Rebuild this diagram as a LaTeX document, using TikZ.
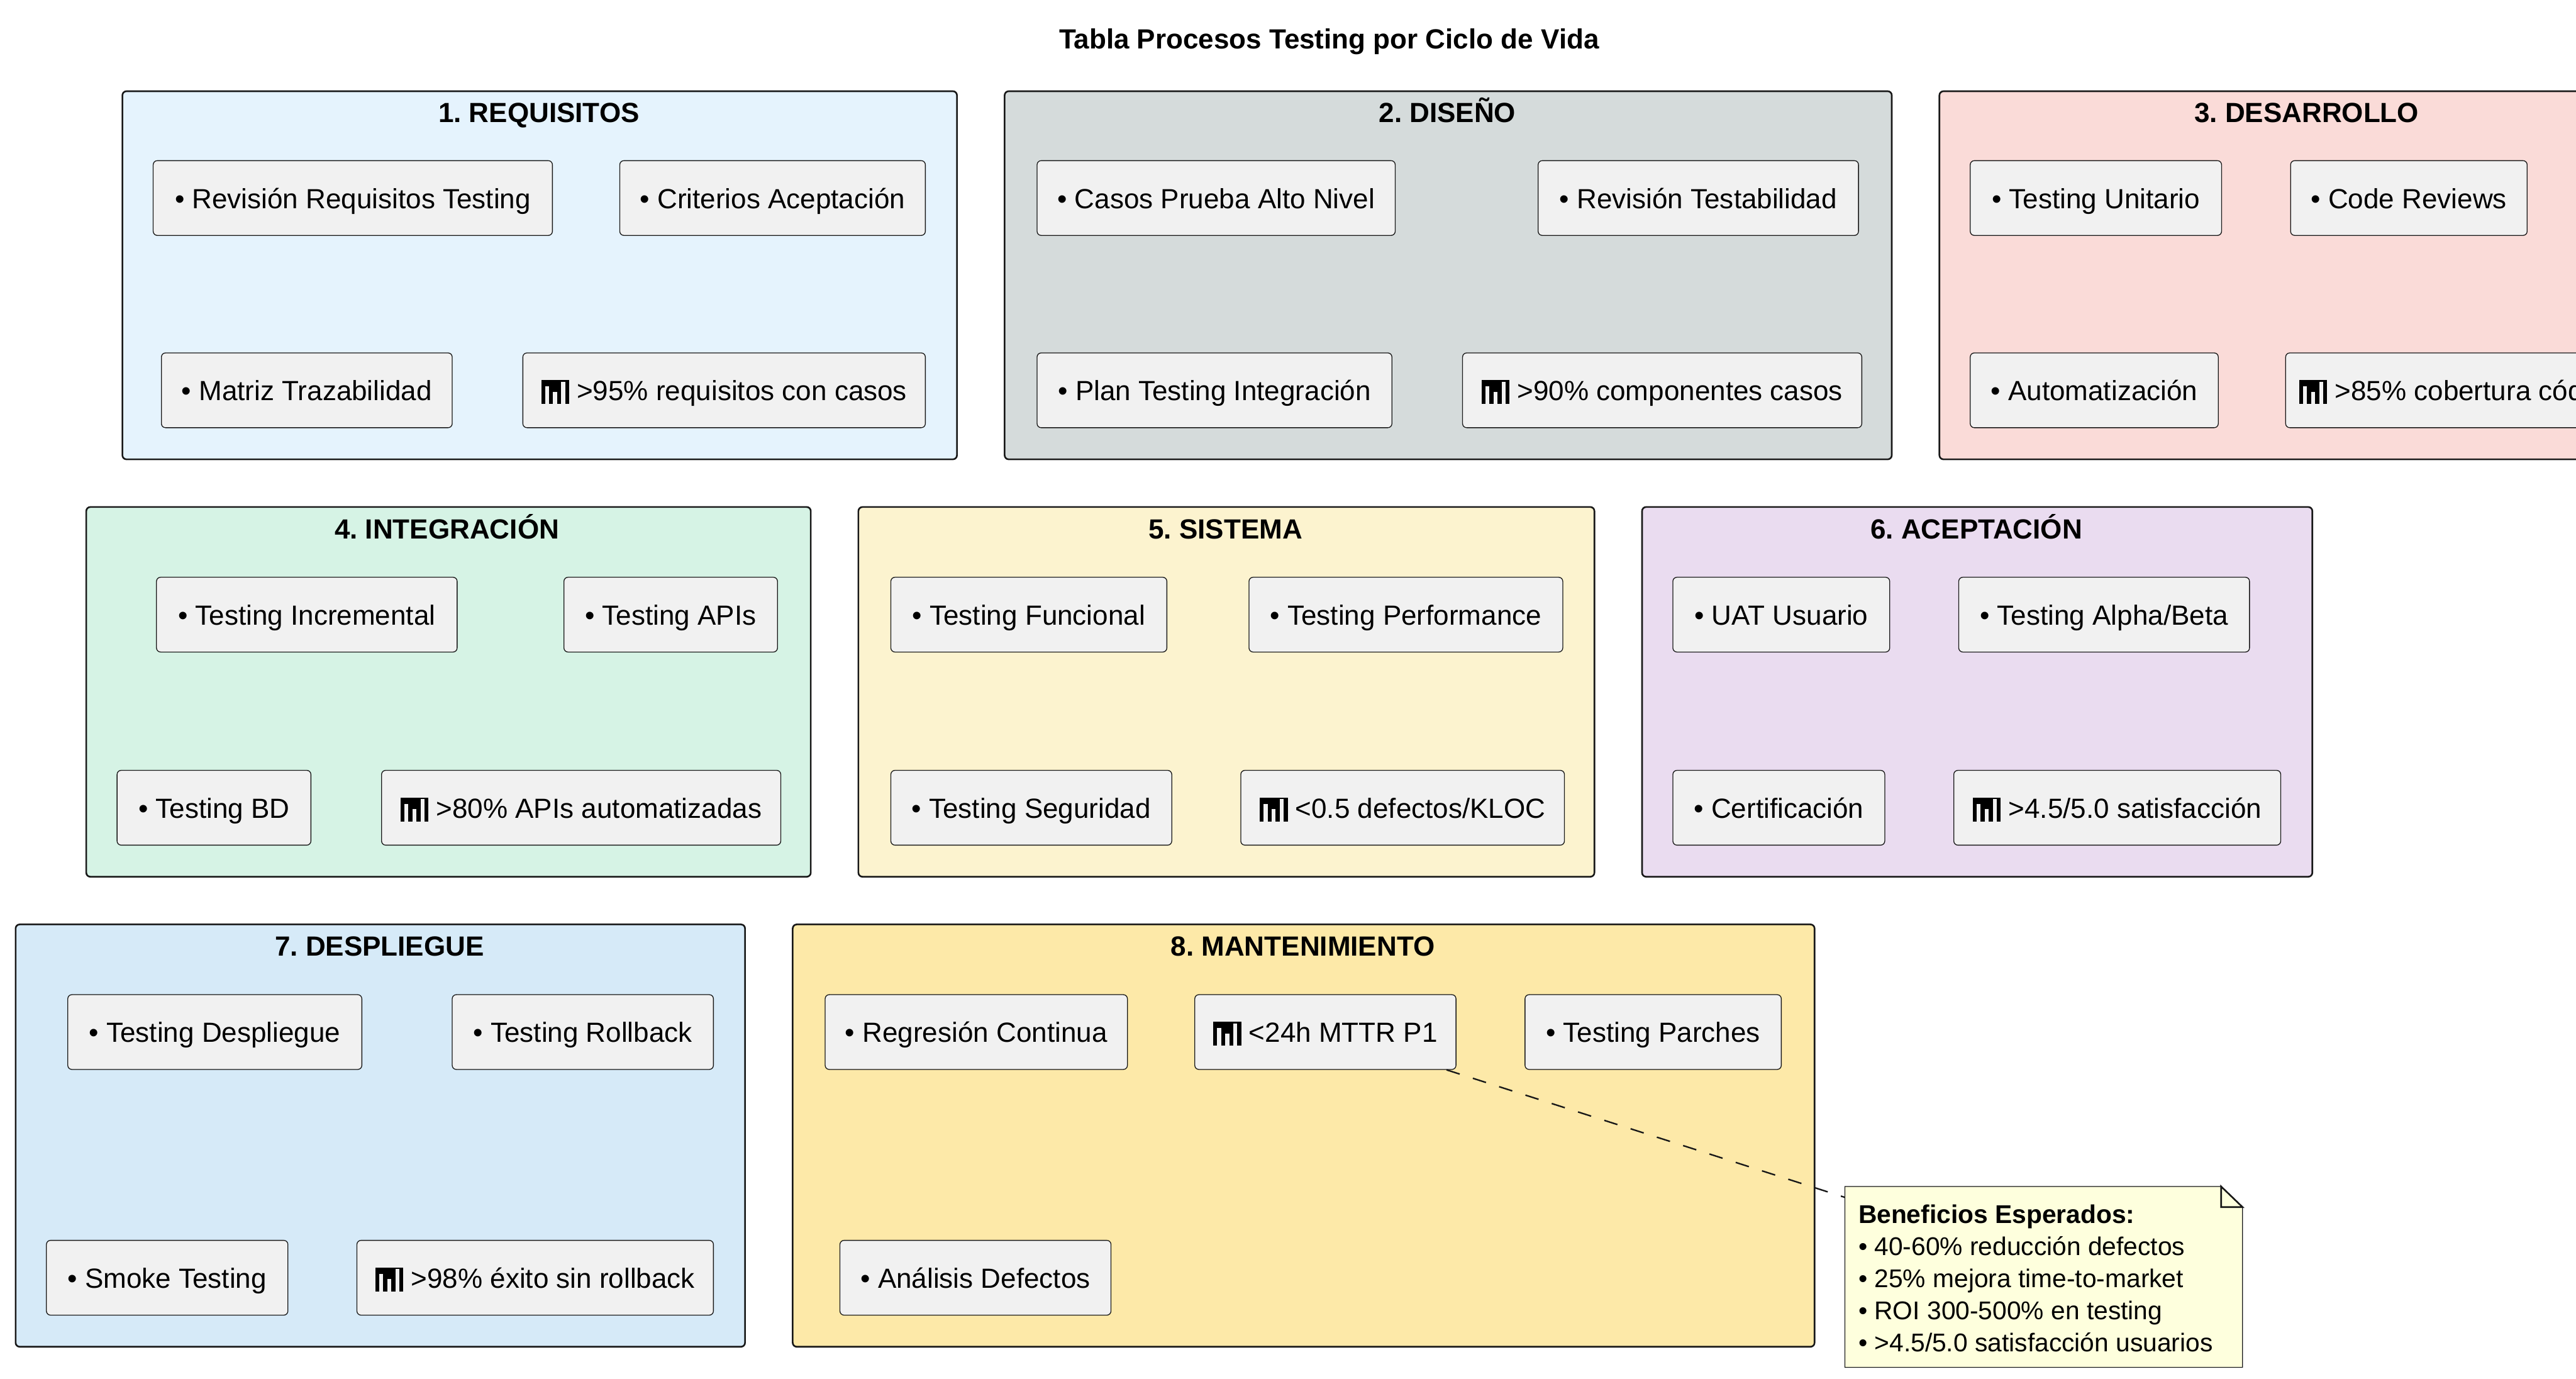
\documentclass[tikz,border=0pt]{standalone}
\usepackage{fontspec}
\setmainfont{Liberation Sans}
\usetikzlibrary{positioning}

\tikzset{
  pkgbox/.style={draw=linedark,line width=1pt,rounded corners=2.5pt,anchor=north west,inner sep=0pt},
  pkgtitle/.style={font=\fontsize{16.85}{20}\selectfont\bfseries,inner sep=0pt,text height=12pt,text depth=0pt},
  itembox/.style={draw=linedark,line width=0.5pt,fill=itemgray,rounded corners=2.5pt,anchor=west,
    minimum height=45.5pt,inner sep=0pt,text height=14pt,text depth=1.5pt,
    font=\fontsize{16.85}{20}\selectfont},
  notebox/.style={draw=linedark,line width=0.5pt,fill=notefill},
  notefold/.style={draw=linedark,line width=1pt},
  notelink/.style={draw=linedark,line width=0.9pt,dash pattern=on 8.4pt off 8.4pt},
}
\definecolor{linedark}{HTML}{181818}
\definecolor{itemgray}{HTML}{F1F1F1}
\definecolor{notefill}{HTML}{FEFFDD}
\definecolor{pkgA}{HTML}{E5F3FD}
\definecolor{pkgB}{HTML}{D5DBDB}
\definecolor{pkgC}{HTML}{FADBD8}
\definecolor{pkgD}{HTML}{D6F3E5}
\definecolor{pkgE}{HTML}{FCF3CF}
\definecolor{pkgF}{HTML}{EADCF0}
\definecolor{pkgG}{HTML}{D6EAF8}
\definecolor{pkgH}{HTML}{FDE9A8}
% bar chart mark, built from rules so that it sits in the text line
\newcommand{\chartslot}[2]{\rlap{\kern#1pt\color{itemgray}\rule[-2pt]{2.45pt}{#2pt}}}
\newcommand{\chartmark}{\rlap{\rule[-2pt]{17pt}{14.5pt}}\chartslot{2.32}{10.7}\chartslot{7.21}{7.4}\chartslot{12.1}{13.5}\kern17pt}

\begin{document}
\begin{tikzpicture}[x=1pt,y=-1pt]
\useasboundingbox (0,0) rectangle (1568,838.8);
\clip (0,0) rectangle (1568,838.8);
\frenchspacing

\node[pkgtitle] (title) at (809,23.5) {Tabla Procesos Testing por Ciclo de Vida};

% packages
\node[pkgbox,fill=pkgA,minimum width=508pt,minimum height=224pt] (reqs) at (74,55) {};
\node[pkgbox,fill=pkgB,minimum width=540pt,minimum height=224pt] (dise) at (611,55) {};
\node[pkgbox,fill=pkgC,minimum width=450pt,minimum height=224pt] (desa) at (1180,55) {};
\node[pkgbox,fill=pkgD,minimum width=441pt,minimum height=225pt] (inte) at (52,308) {};
\node[pkgbox,fill=pkgE,minimum width=448pt,minimum height=225pt] (sist) at (522,308) {};
\node[pkgbox,fill=pkgF,minimum width=408pt,minimum height=225pt] (acep) at (999,308) {};
\node[pkgbox,fill=pkgG,minimum width=444pt,minimum height=257pt] (desp) at (9,562) {};
\node[pkgbox,fill=pkgH,minimum width=622pt,minimum height=257pt] (mant) at (482,562) {};

\node[pkgtitle] (reqs t) at (328,68.5) {1. REQUISITOS};
\node[pkgtitle] (dise t) at (881,68.5) {2. DISEÑO};
\node[pkgtitle] (desa t) at (1404,68.5) {3. DESARROLLO};
\node[pkgtitle] (inte t) at (272,322) {4. INTEGRACIÓN};
\node[pkgtitle] (sist t) at (746,322) {5. SISTEMA};
\node[pkgtitle] (acep t) at (1203,322) {6. ACEPTACIÓN};
\node[pkgtitle] (desp t) at (231,575.5) {7. DESPLIEGUE};
\node[pkgtitle] (mant t) at (793,575.5) {8. MANTENIMIENTO};

% items
\node[itembox,minimum width=243pt] (reqs a) at (93,120.5) {• Revisión Requisitos Testing};
\node[itembox,minimum width=186pt] (reqs b) at (377,120.5) {• Criterios Aceptación};
\node[itembox,minimum width=177pt] (reqs c) at (98,237.5) {• Matriz Trazabilidad};
\node[itembox,minimum width=245pt] (reqs d) at (318,237.5) {\chartmark{} >95\% requisitos con casos};

\node[itembox,minimum width=218pt] (dise a) at (631,120.5) {• Casos Prueba Alto Nivel};
\node[itembox,minimum width=195pt] (dise b) at (936,120.5) {• Revisión Testabilidad};
\node[itembox,minimum width=216pt] (dise c) at (631,237.5) {• Plan Testing Integración};
\node[itembox,minimum width=243pt] (dise d) at (890,237.5) {\chartmark{} >90\% componentes casos};

\node[itembox,minimum width=153pt] (desa a) at (1199,120.5) {• Testing Unitario};
\node[itembox,minimum width=144pt] (desa b) at (1394,120.5) {• Code Reviews};
\node[itembox,minimum width=151pt] (desa c) at (1199,237.5) {• Automatización};
\node[itembox,minimum width=212pt] (desa d) at (1391,237.5) {\chartmark{} >85\% cobertura código};

\node[itembox,minimum width=183pt] (inte a) at (95,374) {• Testing Incremental};
\node[itembox,minimum width=130pt] (inte b) at (343,374) {• Testing APIs};
\node[itembox,minimum width=118pt] (inte c) at (71,491.5) {• Testing BD};
\node[itembox,minimum width=243pt] (inte d) at (232,491.5) {\chartmark{} >80\% APIs automatizadas};

\node[itembox,minimum width=168pt] (sist a) at (542,374) {• Testing Funcional};
\node[itembox,minimum width=191pt] (sist b) at (760,374) {• Testing Performance};
\node[itembox,minimum width=171pt] (sist c) at (542,491.5) {• Testing Seguridad};
\node[itembox,minimum width=197pt] (sist d) at (755,491.5) {\chartmark{} <0.5 defectos/KLOC};

\node[itembox,minimum width=132pt] (acep a) at (1018,374) {• UAT Usuario};
\node[itembox,minimum width=177pt] (acep b) at (1192,374) {• Testing Alpha/Beta};
\node[itembox,minimum width=129pt] (acep c) at (1018,491.5) {• Certificación};
\node[itembox,minimum width=199pt] (acep d) at (1189,491.5) {\chartmark{} >4.5/5.0 satisfacción};

\node[itembox,minimum width=179pt] (desp a) at (41,628) {• Testing Despliegue};
\node[itembox,minimum width=159pt] (desp b) at (275,628) {• Testing Rollback};
\node[itembox,minimum width=147pt] (desp c) at (28,777.5) {• Smoke Testing};
\node[itembox,minimum width=217pt] (desp d) at (217,777.5) {\chartmark{} >98\% éxito sin rollback};

\node[itembox,minimum width=184pt] (mant a) at (502,628) {• Regresión Continua};
\node[itembox,minimum width=159pt] (mant b) at (727,628) {\chartmark{} <24h MTTR P1};
\node[itembox,minimum width=156pt] (mant c) at (928,628) {• Testing Parches};
\node[itembox,minimum width=165pt] (mant d) at (511,777.5) {• Análisis Defectos};

% note
\coordinate (note end) at (1123,728.6);
\draw[notelink] ([xshift=-6pt]mant b.south east) -- (note end);
\draw[notebox] (1123,722) -- (1352,722) -- (1365,734.5) -- (1365,832) -- (1123,832) -- cycle;
\draw[notefold] (1352,722) -- (1352,734.5) -- (1365,734.5) -- cycle;
\node[anchor=north west,align=left,inner sep=0pt,font=\fontsize{15.6}{19.5}\selectfont] (note) at (1131,733)
  {\textbf{Beneficios Esperados:}\\• 40-60\% reducción defectos\\• 25\% mejora time-to-market\\• ROI 300-500\% en testing\\• >4.5/5.0 satisfacción usuarios};

\end{tikzpicture}
\end{document}
